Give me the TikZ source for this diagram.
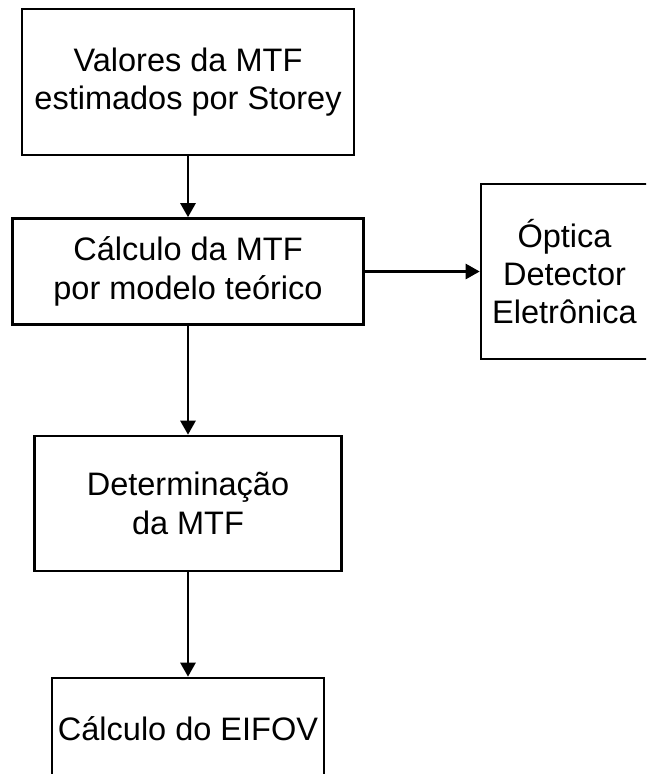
\documentclass[tikz,border=0pt]{standalone}
\usepackage{fontspec}
\setmainfont{Liberation Sans}
\usetikzlibrary{arrows.meta}

\begin{document}
\begin{tikzpicture}[x=0.02cm, y=-0.02cm, font=\fontsize{18.5}{21.8}\selectfont,
    bloco/.style={draw, line width=1.5pt, align=center},
    seta/.style={-{Triangle[length=0.28cm, width=0.3cm]}, line width=1.5pt}]

\useasboundingbox (0,0) rectangle (646,774);
\clip (0,0) rectangle (646,774);

\node[bloco, minimum width=6.64cm, minimum height=2.92cm] (storey)
    at (188,82) {Valores da MTF\\ estimados por Storey};

\node[bloco, minimum width=7.02cm, minimum height=2.12cm] (teorico)
    at (188,271.5) {Cálculo da MTF\\ por modelo teórico};

\node[bloco, minimum width=3.34cm, minimum height=3.5cm] (fatores)
    at (564.5,271.5) {Óptica\\ Detector\\ Eletrônica};

\node[bloco, minimum width=6.14cm, minimum height=2.7cm] (mtf)
    at (188,503.5) {Determinação\\ da MTF};

\node[bloco, minimum width=5.44cm, minimum height=2.04cm] (eifov)
    at (188,729) {Cálculo do EIFOV};

\draw[seta] (storey) -- (teorico);
\draw[seta] (teorico) -- (fatores);
\draw[seta] (teorico) -- (mtf);
\draw[seta] (mtf) -- (eifov);

\end{tikzpicture}
\end{document}
